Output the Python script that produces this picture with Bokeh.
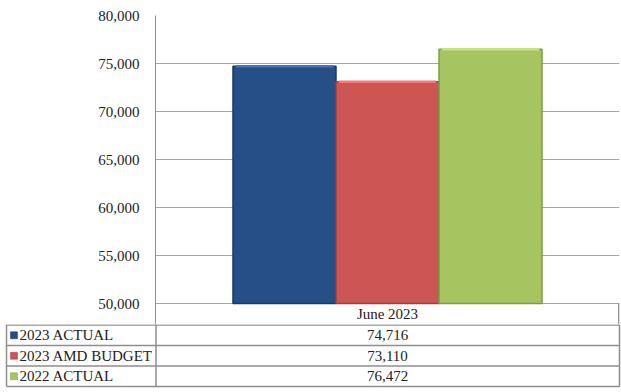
from bokeh.plotting import figure
from bokeh.models import ColumnDataSource, FixedTicker, Range1d, FactorRange, NumeralTickFormatter
from bokeh.transform import dodge
from bokeh.layouts import column
from bokeh.embed import file_html
from bokeh.resources import INLINE
from bokeh.core.properties import value

# ---- data ----
category = ["June 2023"]
series = ["2023 ACTUAL", "2023 AMD BUDGET", "2022 ACTUAL"]
values = [74716, 73110, 76472]
colors = ["#254F86", "#CD5553", "#A6C460"]
edge_colors = ["#1A3A66", "#A23F3D", "#7F9C44"]
highlight_colors = ["#4A74AE", "#EE7C78", "#C9E08A"]
y_ticks = [50000, 55000, 60000, 65000, 70000, 75000, 80000]

FONT = "Liberation Serif"
GRID = "#A6A6A6"
TABLE_LINE = "#8E8E8E"

BASE = 50000
Y_END = 80000
# header row below the 50,000 line occupies 21px; 288px per 30,000
Y_START = BASE - 21 / 288 * (Y_END - BASE)

# ---- top chart ----
p = figure(width=621, height=324, x_range=FactorRange(factors=category),
           y_range=Range1d(Y_START, Y_END), output_backend="svg",
           toolbar_location=None, min_border_left=155, min_border_right=2,
           min_border_top=15, min_border_bottom=0, x_axis_location=None)
p.frame_align = False
p.outline_line_color = None
p.background_fill_color = "white"
p.border_fill_color = "white"
p.xgrid.grid_line_color = None
p.ygrid.grid_line_color = GRID
p.ygrid.grid_line_width = 1

yax = p.yaxis[0]
yax.ticker = FixedTicker(ticks=y_ticks)
yax.formatter = NumeralTickFormatter(format="0,0")
yax.major_tick_line_color = None
yax.minor_tick_line_color = None
yax.major_tick_out = 0
yax.major_label_standoff = 16
yax.axis_line_color = TABLE_LINE
yax.major_label_text_font = FONT
yax.major_label_text_font_size = "15px"
yax.major_label_text_color = "#222222"

bw = 0.222
offsets = [-bw, 0.0, bw]
for s, v, c, ec, hc, off in zip(series, values, colors, edge_colors,
                                highlight_colors, offsets):
    src = ColumnDataSource(dict(cat=category, top=[v], bottom=[BASE]))
    p.vbar(x=dodge("cat", off, range=p.x_range), top="top", bottom="bottom",
           width=bw, source=src, fill_color=c, line_color=ec, line_width=1.5)
    # light bevel along the top edge
    p.segment(x0=dodge("cat", off - bw / 2 + 0.006, range=p.x_range), y0="top",
              x1=dodge("cat", off + bw / 2 - 0.006, range=p.x_range), y1="top",
              source=src, line_color=hc, line_width=2.5)

# header cell: "June 2023" and its right border
hsrc = ColumnDataSource(dict(cat=category, y=[(Y_START + BASE) / 2],
                             y0=[Y_START], y1=[BASE]))
p.text(x="cat", y="y", text="cat", source=hsrc, text_align="center",
       text_baseline="middle", text_font=value(FONT), text_font_size="15px",
       text_color="#222222")
p.segment(x0=dodge("cat", 0.4985, range=p.x_range), y0="y0",
          x1=dodge("cat", 0.4985, range=p.x_range), y1="y1",
          source=hsrc, line_color=TABLE_LINE, line_width=1.5)

# ---- data table below ----
ROW_H = 20.5
LEFT, SPLIT, RIGHT = 6, 155.5, 619
t = figure(width=621, height=68, x_range=Range1d(0, 621), y_range=Range1d(68, 0),
           output_backend="svg", toolbar_location=None, min_border=0,
           x_axis_location=None, y_axis_location=None)
t.frame_align = False
t.outline_line_color = None
t.xgrid.grid_line_color = None
t.ygrid.grid_line_color = None
t.background_fill_color = "white"
t.border_fill_color = "white"

n = len(series)
rows_y = [ROW_H * i + 0.5 for i in range(n + 1)]
t.segment(x0=[LEFT] * (n + 1), y0=rows_y, x1=[RIGHT] * (n + 1), y1=rows_y,
          line_color=TABLE_LINE, line_width=1.5)
t.segment(x0=[LEFT, SPLIT, RIGHT], y0=[0, 0, 0],
          x1=[LEFT, SPLIT, RIGHT], y1=[rows_y[-1]] * 3,
          line_color=TABLE_LINE, line_width=1.5)

centers = [ROW_H * (i + 0.5) + 0.5 for i in range(n)]
tsrc = ColumnDataSource(dict(
    name=series, val=[f"{v:,}" for v in values], y=centers, color=colors,
    ec=edge_colors, sx=[13.5] * n, nx=[19] * n, vx=[387] * n))
t.rect(x="sx", y="y", width=7, height=7, source=tsrc, fill_color="color",
       line_color="ec", line_width=0.5)
t.text(x="nx", y="y", text="name", source=tsrc, text_align="left",
       text_baseline="middle", text_font=value(FONT), text_font_size="15px",
       text_color="#222222")
t.text(x="vx", y="y", text="val", source=tsrc, text_align="center",
       text_baseline="middle", text_font=value(FONT), text_font_size="15px",
       text_color="#222222")

layout = column(p, t, spacing=0)
open("out.html", "w").write(file_html(layout, INLINE))
